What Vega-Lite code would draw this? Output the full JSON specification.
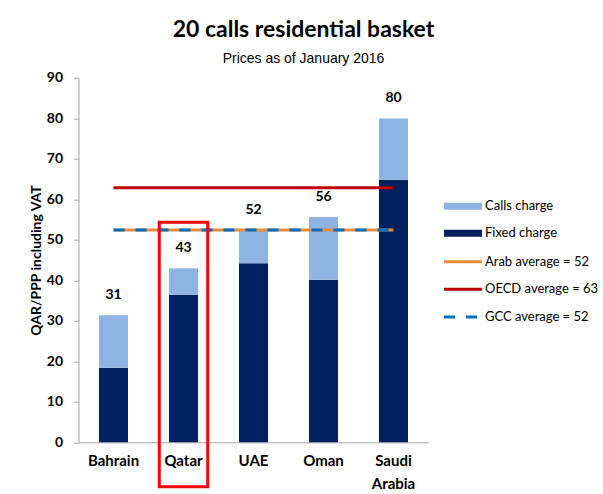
{
  "$schema": "https://vega.github.io/schema/vega-lite/v6.json",
  "width": 350,
  "height": 364.6,
  "autosize": "none",
  "padding": {"left": 78.5, "top": 77.7, "right": 174, "bottom": 52},
  "background": "white",
  "config": {"view": {"stroke": null}, "font": "Lato"},
  "title": {
    "text": "20 calls residential basket",
    "subtitle": "Prices as of January 2016",
    "font": "Lato",
    "fontSize": 23,
    "fontWeight": "bold",
    "color": "black",
    "subtitleFont": "Liberation Sans",
    "subtitleFontSize": 14,
    "subtitleColor": "black",
    "anchor": "middle",
    "dx": 50,
    "offset": 5,
    "subtitlePadding": 10
  },
  "datasets": {
    "bars": [
      {"country": "Bahrain", "component": "Fixed charge", "value": 18.4},
      {"country": "Bahrain", "component": "Calls charge", "value": 12.95},
      {"country": "Qatar", "component": "Fixed charge", "value": 36.4},
      {"country": "Qatar", "component": "Calls charge", "value": 6.55},
      {"country": "UAE", "component": "Fixed charge", "value": 44.2},
      {"country": "UAE", "component": "Calls charge", "value": 8.2},
      {"country": "Oman", "component": "Fixed charge", "value": 40.1},
      {"country": "Oman", "component": "Calls charge", "value": 15.5},
      {"country": "Saudi Arabia", "component": "Fixed charge", "value": 64.8},
      {"country": "Saudi Arabia", "component": "Calls charge", "value": 15.1}
    ],
    "totals": [
      {"country": "Bahrain", "value": 31.35, "label": "31"},
      {"country": "Qatar", "value": 42.95, "label": "43"},
      {"country": "UAE", "value": 52.4, "label": "52"},
      {"country": "Oman", "value": 55.6, "label": "56"},
      {"country": "Saudi Arabia", "value": 79.9, "label": "80"}
    ],
    "averages": [
      {"country": "Bahrain", "series": "Arab average = 52", "value": 52.4},
      {"country": "Qatar", "series": "Arab average = 52", "value": 52.4},
      {"country": "UAE", "series": "Arab average = 52", "value": 52.4},
      {"country": "Oman", "series": "Arab average = 52", "value": 52.4},
      {"country": "Saudi Arabia", "series": "Arab average = 52", "value": 52.4},
      {"country": "Bahrain", "series": "OECD average = 63", "value": 62.85},
      {"country": "Qatar", "series": "OECD average = 63", "value": 62.85},
      {"country": "UAE", "series": "OECD average = 63", "value": 62.85},
      {"country": "Oman", "series": "OECD average = 63", "value": 62.85},
      {"country": "Saudi Arabia", "series": "OECD average = 63", "value": 62.85},
      {"country": "Bahrain", "series": "GCC average = 52", "value": 52.4},
      {"country": "Qatar", "series": "GCC average = 52", "value": 52.4},
      {"country": "UAE", "series": "GCC average = 52", "value": 52.4},
      {"country": "Oman", "series": "GCC average = 52", "value": 52.4},
      {"country": "Saudi Arabia", "series": "GCC average = 52", "value": 52.4}
    ],
    "highlight": [
      {"country": "Qatar", "value": 54.3, "bottom": -11}
    ]
  },
  "encoding": {
    "x": {
      "field": "country",
      "type": "nominal",
      "sort": ["Bahrain", "Qatar", "UAE", "Oman", "Saudi Arabia"],
      "scale": {"domain": ["Bahrain", "Qatar", "UAE", "Oman", "Saudi Arabia"], "paddingInner": 0, "paddingOuter": 0},
      "axis": {
        "title": null,
        "labelAngle": 0,
        "ticks": false,
        "domainColor": "#a6a6a6",
        "labelPadding": 11,
        "labelFont": "Lato",
        "labelFontSize": 15,
        "labelFontWeight": "bold",
        "labelColor": "black",
        "labelLineHeight": 23,
        "labelExpr": "datum.label == 'Saudi Arabia' ? ['Saudi', 'Arabia'] : datum.label"
      }
    }
  },
  "layer": [
    {
      "data": {"name": "bars"},
      "mark": {"type": "bar", "size": 29},
      "encoding": {
        "y": {
          "field": "value",
          "type": "quantitative",
          "stack": "zero",
          "title": "QAR/PPP including VAT",
          "scale": {"domain": [0, 90], "nice": false},
          "axis": {
            "title": "QAR/PPP including VAT",
            "titleFont": "Lato",
            "titleFontSize": 14,
            "titleFontWeight": "bold",
            "titleColor": "black",
            "titlePadding": 3,
            "values": [0, 10, 20, 30, 40, 50, 60, 70, 80, 90],
            "grid": false,
            "domainColor": "#a6a6a6",
            "tickColor": "#a6a6a6",
            "tickSize": 5,
            "labelPadding": 11,
            "labelFont": "Lato",
            "labelFontSize": 14,
            "labelFontWeight": "bold",
            "labelColor": "black"
          }
        },
        "fill": {
          "field": "component",
          "type": "nominal",
          "scale": {"domain": ["Calls charge", "Fixed charge"], "range": ["#8DB4E2", "#002060"]},
          "legend": {
            "title": null,
            "orient": "none",
            "legendX": 378,
            "legendY": 122,
            "padding": 0,
            "symbolType": "M-3.8,-0.7 H3.8 V0.7 H-3.8 Z",
            "symbolSize": 100,
            "symbolStrokeWidth": 0,
            "labelOffset": 15.5,
            "rowPadding": 13,
            "labelFont": "Lato",
            "labelFontSize": 13,
            "labelColor": "black"
          }
        },
        "order": {"field": "component", "sort": "descending"}
      }
    },
    {
      "data": {"name": "averages"},
      "mark": {"type": "line", "strokeWidth": 3},
      "encoding": {
        "y": {"field": "value", "type": "quantitative", "title": "QAR/PPP including VAT"},
        "stroke": {
          "field": "series",
          "type": "nominal",
          "scale": {
            "domain": ["Arab average = 52", "OECD average = 63", "GCC average = 52"],
            "range": ["#E8893D", "#C00000", "#0070C0"]
          },
          "legend": {
            "title": null,
            "orient": "none",
            "legendX": 378,
            "legendY": 177.5,
            "padding": 0,
            "symbolType": "M-3.8,0 H3.8",
            "symbolSize": 100,
            "symbolStrokeWidth": 3,
            "labelOffset": 15.5,
            "rowPadding": 13.6,
            "labelFont": "Lato",
            "labelFontSize": 13,
            "labelColor": "black"
          }
        },
        "strokeDash": {
          "field": "series",
          "type": "nominal",
          "scale": {
            "domain": ["Arab average = 52", "OECD average = 63", "GCC average = 52"],
            "range": [[1, 0], [1, 0], [11, 11]]
          },
          "legend": {
            "title": null,
            "orient": "none",
            "legendX": 378,
            "legendY": 177.5,
            "padding": 0,
            "symbolType": "M-3.8,0 H3.8",
            "symbolSize": 100,
            "symbolStrokeWidth": 3,
            "labelOffset": 15.5,
            "rowPadding": 13.6,
            "labelFont": "Lato",
            "labelFontSize": 13,
            "labelColor": "black"
          }
        }
      }
    },
    {
      "data": {"name": "totals"},
      "mark": {"type": "text", "dy": -20.5, "baseline": "middle", "font": "Lato", "fontSize": 14, "fontWeight": "bold", "color": "black"},
      "encoding": {
        "y": {"field": "value", "type": "quantitative", "title": "QAR/PPP including VAT"},
        "text": {"field": "label", "type": "nominal"}
      }
    },
    {
      "data": {"name": "highlight"},
      "mark": {"type": "bar", "size": 48.5, "fill": "transparent", "stroke": "#FF0000", "strokeWidth": 3},
      "encoding": {
        "y": {"field": "value", "type": "quantitative", "title": "QAR/PPP including VAT"},
        "y2": {"field": "bottom"}
      }
    }
  ]
}
